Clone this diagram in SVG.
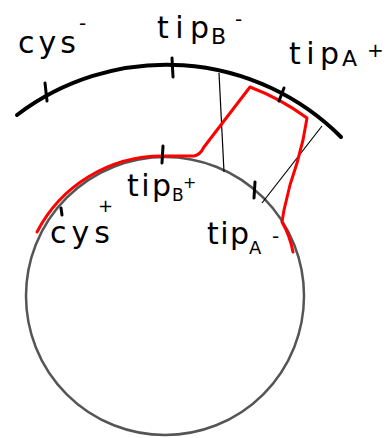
<svg xmlns="http://www.w3.org/2000/svg" width="388" height="438" viewBox="0 0 388 438">
<style>
.bg{fill:#fff}
.outer{fill:none;stroke:#000;stroke-width:4;stroke-linecap:round}
.inner{fill:none;stroke:#555;stroke-width:2.5}
.tick{fill:none;stroke:#000;stroke-width:3;stroke-linecap:round}
.thin{fill:none;stroke:#000;stroke-width:1.2}
.red{fill:none;stroke:#f00;stroke-width:3;stroke-linejoin:round;stroke-linecap:round}
.lbl{font-family:"DejaVu Sans",sans-serif;font-size:30px;fill:#000}
.sm{font-size:20px}
</style>
<rect class="bg" x="0" y="0" width="388" height="438"/>
<g id="inner-circle"><circle class="inner" cx="165" cy="296" r="139"/></g>
<g id="outer-arc"><path class="outer" d="M17,115 A247,247 0 0 1 341,137"/></g>
<g id="connectors">
<path class="thin" d="M219,73 L224,172"/>
<path class="thin" d="M322,126 L262,203"/>
<path class="red" d="M37,232 A141,141 0 0 1 162,156 L194,156 Q200,155 204,147 L250,87 A238,238 0 0 1 307,118 L303,140 L297,163 L290,185 L284,210 L282,222 Q290,236 293,252"/>
</g>
<g id="ticks">
<path class="tick" d="M45,83 L47,101"/>
<path class="tick" d="M172,58 L173,77"/>
<path class="tick" d="M284,88 L279,101"/>
<path class="tick" d="M163,146 L162,163"/>
<path class="tick" d="M255,182 L254,198"/>
<path class="tick" d="M61,208 L62,215"/>
</g>
<g id="label-cys-minus"><text class="lbl" x="18" y="53" textLength="58" lengthAdjust="spacing">cys</text><text class="lbl sm" x="79" y="30">-</text></g>
<g id="label-tipB-minus"><text class="lbl" x="157" y="38" textLength="52" lengthAdjust="spacing">tip</text><text class="lbl" x="211" y="44" style="font-size:22px">B</text><text class="lbl sm" x="235" y="26">-</text></g>
<g id="label-tipA-plus"><text class="lbl" x="289" y="64" textLength="50" lengthAdjust="spacing">tip</text><text class="lbl" x="342" y="66" style="font-size:22px">A</text><text class="lbl sm" x="367" y="57">+</text></g>
<g id="label-tipB-plus"><text class="lbl" x="127" y="196" textLength="44" lengthAdjust="spacing">tip</text><text class="lbl" x="172" y="201" style="font-size:17px">B</text><text class="lbl sm" x="183" y="188" style="font-size:16px">+</text></g>
<g id="label-cys-plus"><text class="lbl" x="50" y="243" textLength="60" lengthAdjust="spacing">cys</text><text class="lbl sm" x="98" y="212" style="font-size:18px">+</text></g>
<g id="label-tipA-minus"><text class="lbl" x="207" y="244" textLength="42" lengthAdjust="spacing">tip</text><text class="lbl" x="249" y="254" style="font-size:18px">A</text><text class="lbl sm" x="272" y="243">-</text></g>
</svg>
